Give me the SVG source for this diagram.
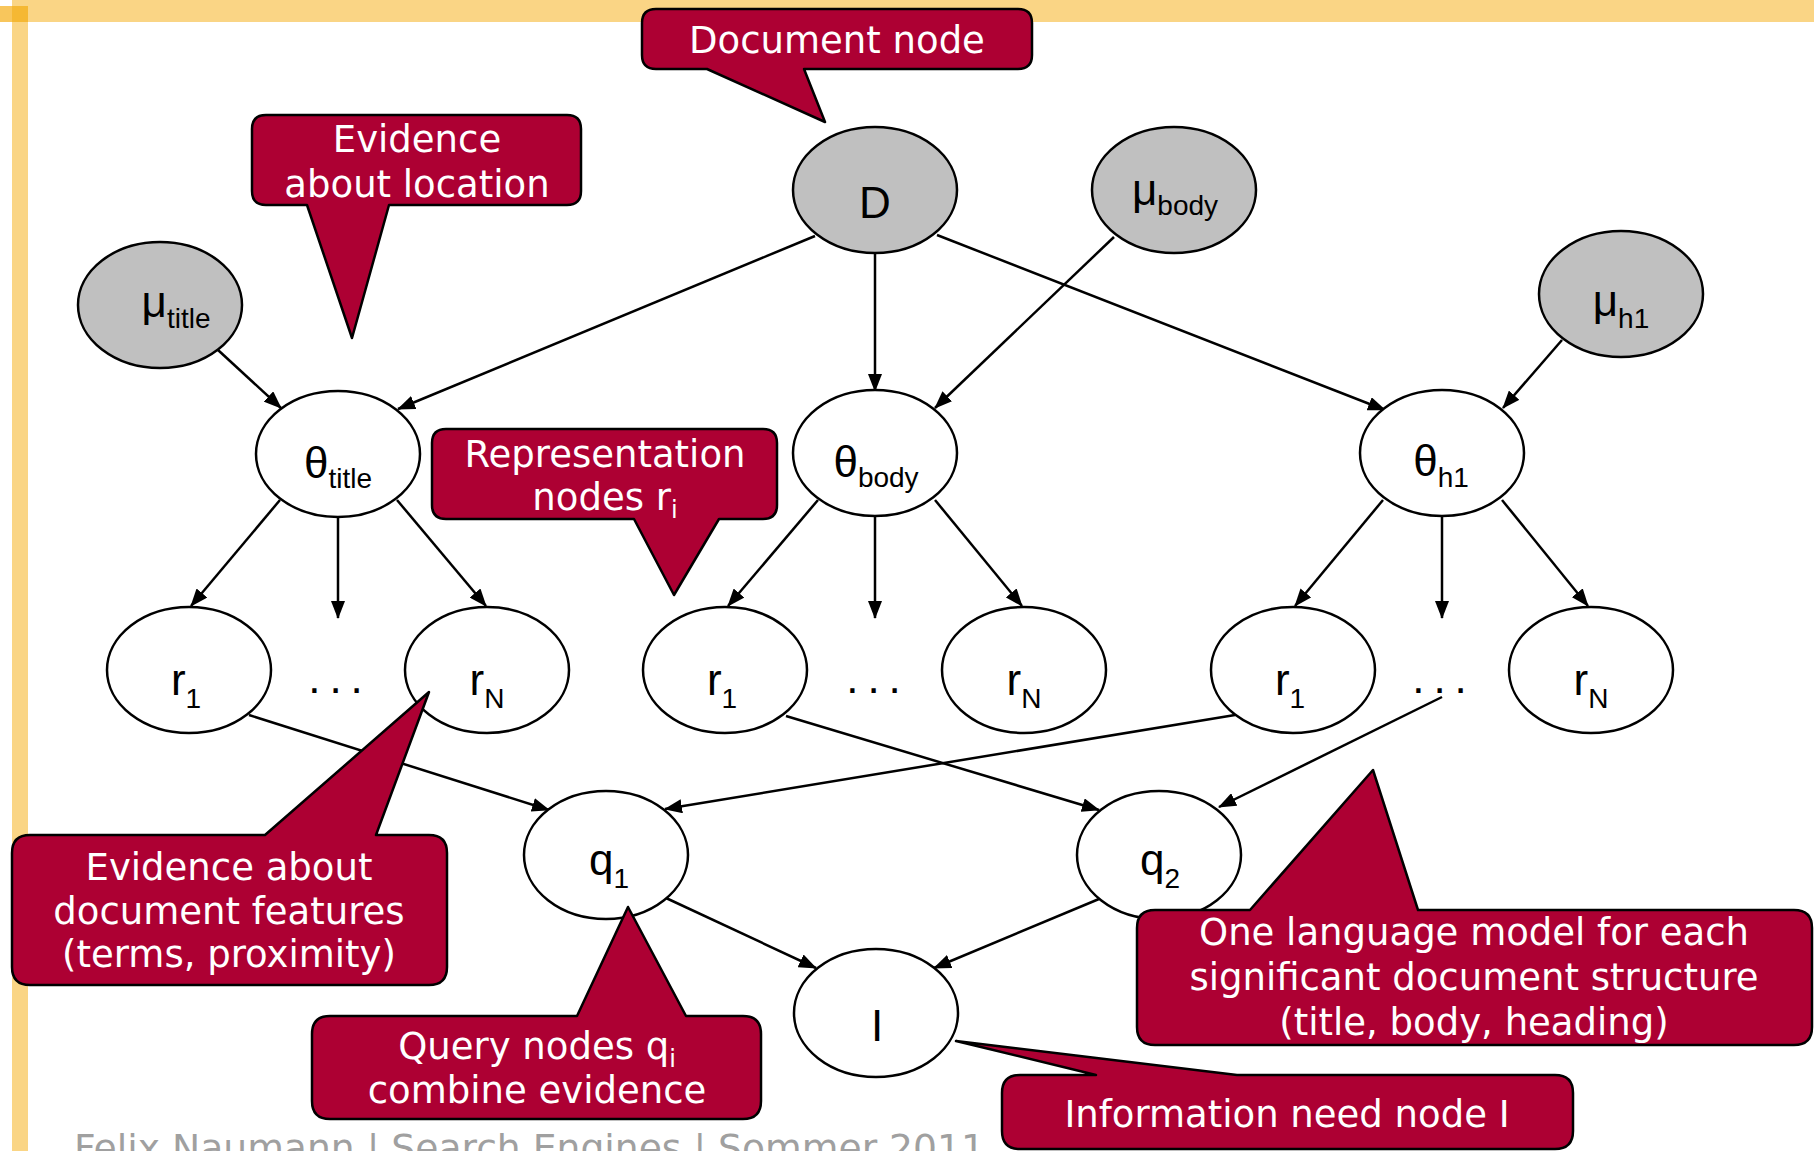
<svg xmlns="http://www.w3.org/2000/svg" width="1814" height="1151" viewBox="0 0 1814 1151">
  <style>
    .node { stroke: #000; stroke-width: 2.5; }
    .obs { fill: #C0C0C0; }
    .hid { fill: #FFFFFF; }
    .lbl { font-family: "Liberation Sans", Arial, sans-serif; font-size: 44px; fill: #000; text-anchor: middle; }
    .sub { font-size: 28px; }
    .edge { stroke: #000; stroke-width: 2.5; fill: none; marker-end: url(#arrow); }
    .call { fill: #AD0033; stroke: #000; stroke-width: 2.5; stroke-linejoin: round; }
    .ctext { font-family: "DejaVu Sans", Verdana, sans-serif; font-size: 37px; fill: #FFFFFF; text-anchor: middle; }
    .csub { font-size: 24px; }
  </style>
  <defs>
    <marker id="arrow" markerUnits="userSpaceOnUse" markerWidth="18" markerHeight="14" refX="17" refY="7" orient="auto">
      <path d="M0,0 L18,7 L0,14 Z" fill="#000"/>
    </marker>
  </defs>

  <rect width="1814" height="1151" fill="#FFFFFF"/>

  <!-- slide frame -->
  <g id="frame">
    <rect x="12" y="0" width="1802" height="22" fill="#FAD585"/>
    <rect x="12" y="0" width="16" height="1151" fill="#FAD585"/>
    <rect x="0" y="6" width="28" height="16" fill="#F8C65C"/>
    <rect x="12" y="6" width="16" height="16" fill="#F5B833"/>
  </g>

  <!-- footer -->
  <text id="footer" x="74" y="1161" font-family="DejaVu Sans, Verdana, sans-serif" font-size="37.5" fill="#A0A0A0" textLength="911" lengthAdjust="spacingAndGlyphs">Felix Naumann | Search Engines | Sommer 2011</text>

  <!-- connectors -->
  <g id="edges">
    <line class="edge" x1="815" y1="236" x2="398" y2="409"/>
    <line class="edge" x1="875" y1="253" x2="875" y2="391"/>
    <line class="edge" x1="937" y1="235" x2="1385" y2="410"/>
    <line class="edge" x1="218" y1="350" x2="281" y2="408"/>
    <line class="edge" x1="1114" y1="237" x2="935" y2="408"/>
    <line class="edge" x1="1562" y1="340" x2="1503" y2="408"/>

    <line class="edge" x1="280" y1="500" x2="191" y2="606"/>
    <line class="edge" x1="338" y1="517" x2="338" y2="618"/>
    <line class="edge" x1="397" y1="500" x2="486" y2="606"/>
    <line class="edge" x1="818" y1="500" x2="728" y2="606"/>
    <line class="edge" x1="875" y1="517" x2="875" y2="618"/>
    <line class="edge" x1="935" y1="500" x2="1022" y2="606"/>
    <line class="edge" x1="1383" y1="500" x2="1295" y2="606"/>
    <line class="edge" x1="1442" y1="517" x2="1442" y2="618"/>
    <line class="edge" x1="1502" y1="500" x2="1588" y2="606"/>

    <line class="edge" x1="249" y1="715" x2="549" y2="810"/>
    <line class="edge" x1="1235" y1="715" x2="665" y2="809"/>
    <line class="edge" x1="786" y1="716" x2="1099" y2="810"/>
    <line class="edge" x1="1442" y1="697" x2="1219" y2="807"/>
    <line class="edge" x1="666" y1="898" x2="816" y2="968"/>
    <line class="edge" x1="1099" y1="899" x2="934" y2="968"/>
  </g>

  <!-- nodes -->
  <g id="node-D">
    <ellipse class="node obs" cx="875" cy="190" rx="82" ry="63"/>
    <text class="lbl" x="875" y="218" font-size="46">D</text>
  </g>
  <g id="node-mu-body">
    <ellipse class="node obs" cx="1174" cy="190" rx="82" ry="63"/>
    <text class="lbl" x="1175" y="205" font-size="46">μ<tspan class="sub" dy="10">body</tspan></text>
  </g>
  <g id="node-mu-title">
    <ellipse class="node obs" cx="160" cy="305" rx="82" ry="63"/>
    <text class="lbl" x="176" y="317" font-size="46">μ<tspan class="sub" dy="11">title</tspan></text>
  </g>
  <g id="node-mu-h1">
    <ellipse class="node obs" cx="1621" cy="294" rx="82" ry="63"/>
    <text class="lbl" x="1621" y="316" font-size="46">μ<tspan class="sub" dy="12">h1</tspan></text>
  </g>

  <g id="node-theta-title">
    <ellipse class="node hid" cx="338" cy="454" rx="82" ry="63"/>
    <text class="lbl" x="338" y="478" font-size="41">θ<tspan class="sub" dy="10">title</tspan></text>
  </g>
  <g id="node-theta-body">
    <ellipse class="node hid" cx="875" cy="453" rx="82" ry="63"/>
    <text class="lbl" x="876" y="477" font-size="41">θ<tspan class="sub" dy="10">body</tspan></text>
  </g>
  <g id="node-theta-h1">
    <ellipse class="node hid" cx="1442" cy="453" rx="82" ry="63"/>
    <text class="lbl" x="1441" y="476" font-size="41">θ<tspan class="sub" dy="11">h1</tspan></text>
  </g>

  <g id="node-title-r1">
    <ellipse class="node hid" cx="189" cy="670" rx="82" ry="63"/>
    <text class="lbl" x="186" y="695" font-size="46">r<tspan class="sub" dy="13">1</tspan></text>
  </g>
  <g id="node-title-rN">
    <ellipse class="node hid" cx="487" cy="670" rx="82" ry="63"/>
    <text class="lbl" x="487" y="695" font-size="46">r<tspan class="sub" dy="13">N</tspan></text>
  </g>
  <g id="node-body-r1">
    <ellipse class="node hid" cx="725" cy="670" rx="82" ry="63"/>
    <text class="lbl" x="722" y="695" font-size="46">r<tspan class="sub" dy="13">1</tspan></text>
  </g>
  <g id="node-body-rN">
    <ellipse class="node hid" cx="1024" cy="670" rx="82" ry="63"/>
    <text class="lbl" x="1024" y="695" font-size="46">r<tspan class="sub" dy="13">N</tspan></text>
  </g>
  <g id="node-h1-r1">
    <ellipse class="node hid" cx="1293" cy="670" rx="82" ry="63"/>
    <text class="lbl" x="1290" y="695" font-size="46">r<tspan class="sub" dy="13">1</tspan></text>
  </g>
  <g id="node-h1-rN">
    <ellipse class="node hid" cx="1591" cy="670" rx="82" ry="63"/>
    <text class="lbl" x="1591" y="695" font-size="46">r<tspan class="sub" dy="13">N</tspan></text>
  </g>

  <g id="dots-title"><text class="lbl" x="340" y="693" font-size="46" letter-spacing="9">...</text></g>
  <g id="dots-body"><text class="lbl" x="878" y="693" font-size="46" letter-spacing="9">...</text></g>
  <g id="dots-h1"><text class="lbl" x="1444" y="693" font-size="46" letter-spacing="9">...</text></g>

  <g id="node-q1">
    <ellipse class="node hid" cx="606" cy="855" rx="82" ry="64"/>
    <text class="lbl" x="609" y="875" font-size="46">q<tspan class="sub" dy="13">1</tspan></text>
  </g>
  <g id="node-q2">
    <ellipse class="node hid" cx="1159" cy="855" rx="82" ry="64"/>
    <text class="lbl" x="1160" y="875" font-size="46">q<tspan class="sub" dy="13">2</tspan></text>
  </g>
  <g id="node-I">
    <ellipse class="node hid" cx="876" cy="1013" rx="82" ry="64"/>
    <text class="lbl" x="877" y="1041" font-size="46">I</text>
  </g>

  <!-- callouts -->
  <g id="callout-document">
    <path class="call" d="M656,9 H1018 Q1032,9 1032,23 V55 Q1032,69 1018,69 H804 L825,122 L707,69 H656 Q642,69 642,55 V23 Q642,9 656,9 Z"/>
    <text class="ctext" x="837" y="53">Document node</text>
  </g>
  <g id="callout-location">
    <path class="call" d="M266,115 H567 Q581,115 581,129 V191 Q581,205 567,205 H389 L352,338 L307,205 H266 Q252,205 252,191 V129 Q252,115 266,115 Z"/>
    <text class="ctext" x="417" y="152">Evidence</text>
    <text class="ctext" x="417" y="197">about location</text>
  </g>
  <g id="callout-representation">
    <path class="call" d="M446,429 H763 Q777,429 777,443 V505 Q777,519 763,519 H719 L674,595 L634,519 H446 Q432,519 432,505 V443 Q432,429 446,429 Z"/>
    <text class="ctext" x="605" y="467">Representation</text>
    <text class="ctext" x="605" y="510">nodes r<tspan class="csub" dy="8">i</tspan></text>
  </g>
  <g id="callout-features">
    <path class="call" d="M30,835 H265 L429,692 L376,835 H429 Q447,835 447,853 V967 Q447,985 429,985 H30 Q12,985 12,967 V853 Q12,835 30,835 Z"/>
    <text class="ctext" x="229" y="880">Evidence about</text>
    <text class="ctext" x="229" y="924">document features</text>
    <text class="ctext" x="229" y="967">(terms, proximity)</text>
  </g>
  <g id="callout-query">
    <path class="call" d="M330,1016 H577 L628,907 L686,1016 H743 Q761,1016 761,1034 V1101 Q761,1119 743,1119 H330 Q312,1119 312,1101 V1034 Q312,1016 330,1016 Z"/>
    <text class="ctext" x="537" y="1059">Query nodes q<tspan class="csub" dy="8">i</tspan></text>
    <text class="ctext" x="537" y="1103">combine evidence</text>
  </g>
  <g id="callout-language-model">
    <path class="call" d="M1155,910 H1250 L1373,770 L1418,910 H1794 Q1812,910 1812,928 V1027 Q1812,1045 1794,1045 H1155 Q1137,1045 1137,1027 V928 Q1137,910 1155,910 Z"/>
    <text class="ctext" x="1474" y="945">One language model for each</text>
    <text class="ctext" x="1474" y="990">significant document structure</text>
    <text class="ctext" x="1474" y="1035">(title, body, heading)</text>
  </g>
  <g id="callout-information-need">
    <path class="call" d="M1020,1075 H1096 L956,1041 L1237,1075 H1555 Q1573,1075 1573,1093 V1131 Q1573,1149 1555,1149 H1020 Q1002,1149 1002,1131 V1093 Q1002,1075 1020,1075 Z"/>
    <text class="ctext" x="1287" y="1127">Information need node I</text>
  </g>
</svg>
